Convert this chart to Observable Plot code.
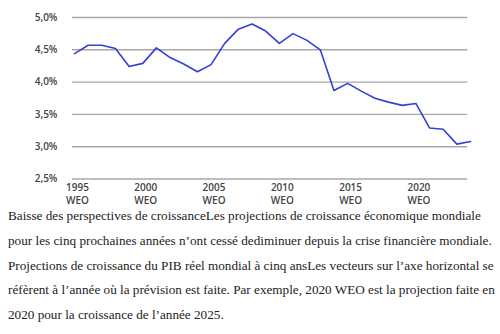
<!DOCTYPE html>
<html>
<head>
<meta charset="utf-8">
<script src="https://cdn.jsdelivr.net/npm/d3@7"></script>
<script src="https://cdn.jsdelivr.net/npm/@observablehq/plot@0.6"></script>
<style>
  html, body { margin: 0; padding: 0; background: #fff; }
  #chart { width: 500px; height: 208px; }
  #caption {
    font-family: "Liberation Serif", "DejaVu Serif", serif;
    font-size: 13.2px;
    line-height: 24.8px;
    color: #222;
    margin: -4px 0 0 8px;
    padding: 0;
    white-space: nowrap;
  }
</style>
</head>
<body>
<div id="chart"></div>
<p id="caption">Baisse des perspectives de croissanceLes projections de croissance économique mondiale<br>pour les cinq prochaines années n’ont cessé dediminuer depuis la crise financière mondiale.<br>Projections de croissance du PIB réel mondial à cinq ansLes vecteurs sur l’axe horizontal se<br>réfèrent à l’année où la prévision est faite. Par exemple, 2020 WEO est la projection faite en<br>2020 pour la croissance de l’année 2025.</p>
<script>
const years = [1995,1996,1997,1998,1999,2000,2001,2002,2003,2004,2005,2006,2007,2008,2009,2010,2011,2012,2013,2014,2015,2016,2017,2018,2019,2020,2021,2022,2023,2024];
const growth = [4.44,4.57,4.57,4.52,4.24,4.29,4.53,4.38,4.28,4.16,4.27,4.60,4.82,4.90,4.79,4.60,4.75,4.65,4.50,3.87,3.98,3.86,3.75,3.69,3.64,3.67,3.29,3.27,3.04,3.08];
const xTicks = [1995,2000,2005,2010,2015,2020];
const yTicks = [2.5,3.0,3.5,4.0,4.5,5.0];

const data = years.map((y, i) => ({year: y, value: growth[i]}));

const plot = Plot.plot({
  width: 500,
  height: 208,
  marginTop: 17,
  marginBottom: 29.5,
  marginLeft: 74,
  marginRight: 30,
  style: {fontFamily: "'Open Sans', 'Noto Sans', sans-serif", fontSize: "10px", color: "#333", background: "#fff"},
  x: {domain: [1995, 2024]},
  y: {domain: [2.5, 5.0]},
  marks: [
    Plot.ruleY(yTicks, {stroke: "#a8a8a8", strokeWidth: 1.4, x1: 1994.85, x2: 2023.8}),
    Plot.axisY({ticks: yTicks, tickSize: 0, tickPadding: 17, label: null,
      tickFormat: d => d.toFixed(1).replace(".", ",") + "%", fontWeight: 600, fill: "#444"}),
    Plot.axisX({ticks: xTicks, tickSize: 0, tickPadding: 3, label: null, dx: 3,
      tickFormat: d => d + "\nWEO", fontWeight: 600, fill: "#444", lineHeight: 1.3}),
    Plot.line(data, {x: "year", y: "value", stroke: "#3340d4", strokeWidth: 1.6})
  ]
});
document.getElementById("chart").appendChild(plot);
</script>
</body>
</html>
